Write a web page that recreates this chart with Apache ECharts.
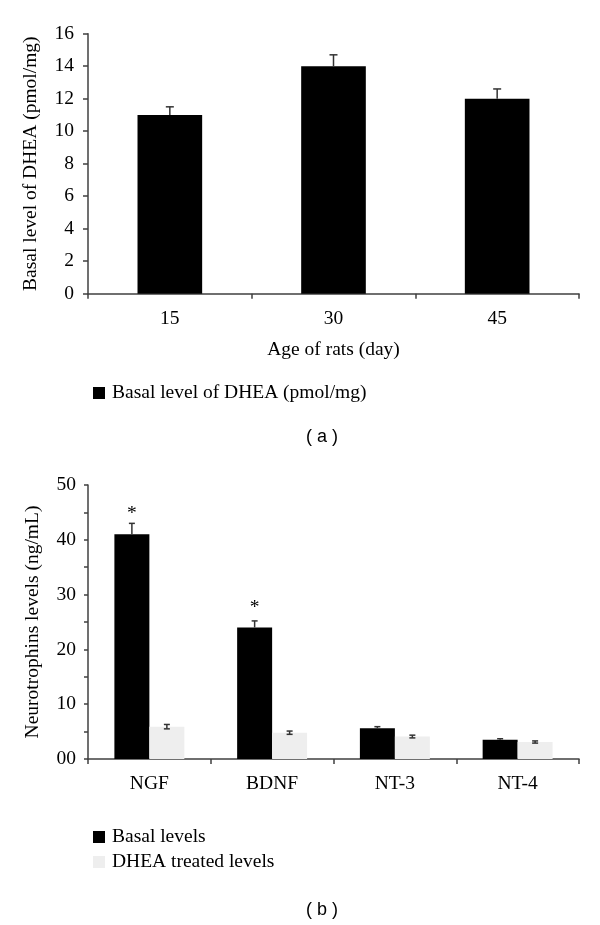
<!DOCTYPE html>
<html>
<head>
<meta charset="utf-8">
<script src="https://cdn.jsdelivr.net/npm/echarts@6/dist/echarts.min.js"></script>
<style>
html,body{margin:0;padding:0;background:#fff;}
#chart{width:600px;height:925px;}
</style>
</head>
<body>
<div id="chart"></div>
<script>
// ---- Panel (a) data ----
const agesA = ['15', '30', '45'];
const dheaVals = [11, 14, 12];
const dheaErrTop = [11.5, 14.7, 12.6];

// ---- Panel (b) data ----
const neuroCats = ['NGF', 'BDNF', 'NT-3', 'NT-4'];
const basalVals = [41, 24, 5.6, 3.5];
const basalErrTop = [43, 25.2, 5.9, 3.7];
const treatedVals = [5.9, 4.8, 4.1, 3.1];
const treatedErrLow = [5.5, 4.5, 3.85, 2.9];
const treatedErrHigh = [6.3, 5.1, 4.35, 3.3];
const sigMarks = ['*', '*', '', ''];

const serif = 'Liberation Serif';
const fs = 19.5;
const axisCol = '#404040';

function errRender(offsetFrac, capHalf, lowCap) {
  return function (params, api) {
    const x = api.value(0), lo = api.value(1), hi = api.value(2);
    const pLo = api.coord([x, lo]);
    const pHi = api.coord([x, hi]);
    const bw = api.size([1, 0])[0];
    const cx = pLo[0] + bw * offsetFrac;
    const st = {stroke: '#333', lineWidth: 1.5};
    const children = [
      {type: 'line', shape: {x1: cx, y1: pLo[1], x2: cx, y2: pHi[1]}, style: st},
      {type: 'line', shape: {x1: cx - capHalf, y1: pHi[1], x2: cx + capHalf, y2: pHi[1]}, style: st}
    ];
    if (lowCap) children.push({type: 'line', shape: {x1: cx - capHalf, y1: pLo[1], x2: cx + capHalf, y2: pLo[1]}, style: st});
    return {type: 'group', children: children};
  };
}

const chart = echarts.init(document.getElementById('chart'), null, {renderer: 'canvas'});
const option = {
  animation: false,
  backgroundColor: '#fff',
  textStyle: {fontFamily: serif, color: '#000'},
  grid: [
    {left: 88, right: 21, top: 33.7, bottom: 631.3},
    {left: 88, right: 21, top: 485, bottom: 166}
  ],
  xAxis: [
    {
      gridIndex: 0, type: 'category', data: agesA,
      name: 'Age of rats (day)', nameLocation: 'middle', nameGap: 46,
      nameTextStyle: {fontFamily: serif, fontSize: fs, color: '#000'},
      axisLine: {lineStyle: {color: axisCol, width: 1.5}},
      axisTick: {show: true, length: 5, lineStyle: {color: axisCol, width: 1.5}},
      axisLabel: {fontFamily: serif, fontSize: fs, color: '#000', margin: 15}
    },
    {
      gridIndex: 1, type: 'category', data: neuroCats,
      axisLine: {lineStyle: {color: axisCol, width: 1.5}},
      axisTick: {show: true, length: 5, lineStyle: {color: axisCol, width: 1.5}},
      axisLabel: {fontFamily: serif, fontSize: fs, color: '#000', margin: 15}
    }
  ],
  yAxis: [
    {
      gridIndex: 0, type: 'value', min: 0, max: 16, interval: 2,
      name: 'Basal level of DHEA (pmol/mg)', nameLocation: 'middle', nameGap: 47, nameRotate: 90,
      nameTextStyle: {fontFamily: serif, fontSize: fs, color: '#000'},
      axisLine: {show: true, lineStyle: {color: axisCol, width: 1.5}},
      axisTick: {show: true, length: 5, lineStyle: {color: axisCol, width: 1.5}},
      splitLine: {show: false},
      axisLabel: {fontFamily: serif, fontSize: fs, color: '#000', margin: 14}
    },
    {
      gridIndex: 1, type: 'value', min: 0, max: 50, interval: 5,
      name: 'Neurotrophins levels (ng/mL)', nameLocation: 'middle', nameGap: 45, nameRotate: 90,
      nameTextStyle: {fontFamily: serif, fontSize: fs, color: '#000'},
      axisLine: {show: true, lineStyle: {color: axisCol, width: 1.5}},
      axisTick: {show: true, length: 4, lineStyle: {color: axisCol, width: 1.5}},
      splitLine: {show: false},
      axisLabel: {
        fontFamily: serif, fontSize: fs, color: '#000', margin: 12,
        formatter: function (v) { return v % 10 === 0 ? (v === 0 ? '00' : String(v)) : ''; }
      }
    }
  ],
  legend: [
    {
      data: ['Basal level of DHEA (pmol/mg)'],
      left: 88, top: 378, icon: 'rect', itemWidth: 12, itemHeight: 12, itemGap: 10,
      textStyle: {fontFamily: serif, fontSize: fs, color: '#000', padding: [0, 0, 0, 2]},
      selectedMode: false
    },
    {
      data: ['Basal levels', 'DHEA treated levels'],
      orient: 'vertical', left: 88, top: 822, icon: 'rect', itemWidth: 12, itemHeight: 12, itemGap: 5,
      textStyle: {fontFamily: serif, fontSize: fs, color: '#000', padding: [0, 0, 0, 2]},
      selectedMode: false
    }
  ],
  graphic: [
    {type: 'text', x: 322, y: 437, style: {text: '( a )', font: '18px "Liberation Sans"', fill: '#000', textAlign: 'center', textVerticalAlign: 'middle'}},
    {type: 'text', x: 322, y: 910, style: {text: '( b )', font: '18px "Liberation Sans"', fill: '#000', textAlign: 'center', textVerticalAlign: 'middle'}}
  ],
  series: [
    {
      name: 'Basal level of DHEA (pmol/mg)', type: 'bar', xAxisIndex: 0, yAxisIndex: 0,
      data: dheaVals, barCategoryGap: '60.5%', itemStyle: {color: '#000'}
    },
    {
      type: 'custom', xAxisIndex: 0, yAxisIndex: 0,
      renderItem: errRender(0, 4, false),
      data: dheaVals.map((v, i) => [i, v, dheaErrTop[i]]),
      encode: {x: 0, y: [1, 2]}, z: 5
    },
    {
      name: 'Basal levels', type: 'bar', xAxisIndex: 1, yAxisIndex: 1,
      data: basalVals, barCategoryGap: '43%', barGap: '0%', itemStyle: {color: '#000'},
      label: {
        show: true, position: 'top', distance: 10,
        fontFamily: serif, fontSize: fs, color: '#000',
        formatter: function (p) { return sigMarks[p.dataIndex]; }
      }
    },
    {
      name: 'DHEA treated levels', type: 'bar', xAxisIndex: 1, yAxisIndex: 1,
      data: treatedVals, barCategoryGap: '43%', barGap: '0%', itemStyle: {color: '#eeeeee'}
    },
    {
      type: 'custom', xAxisIndex: 1, yAxisIndex: 1,
      renderItem: errRender(-0.1425, 3, false),
      data: basalVals.map((v, i) => [i, v, basalErrTop[i]]),
      encode: {x: 0, y: [1, 2]}, z: 5
    },
    {
      type: 'custom', xAxisIndex: 1, yAxisIndex: 1,
      renderItem: errRender(0.1425, 3, true),
      data: treatedVals.map((v, i) => [i, treatedErrLow[i], treatedErrHigh[i]]),
      encode: {x: 0, y: [1, 2]}, z: 5
    }
  ]
};
chart.setOption(option);
</script>
</body>
</html>
